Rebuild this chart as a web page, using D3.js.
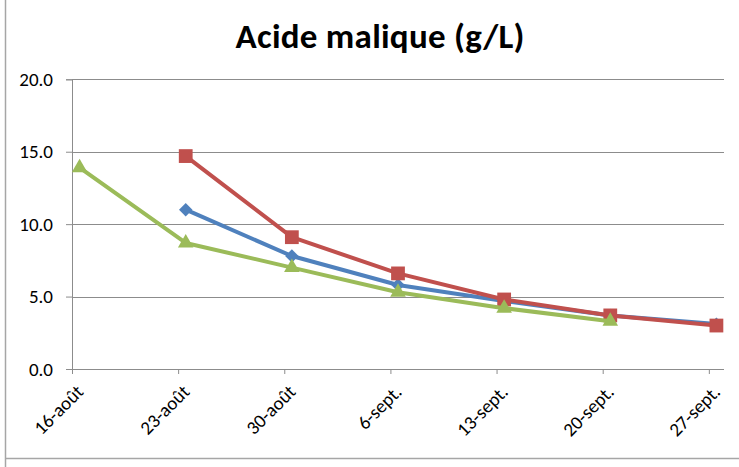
<!DOCTYPE html>
<html><head><meta charset="utf-8">
<script src="https://cdn.jsdelivr.net/npm/d3@7"></script>
<style>body{margin:0;background:#fff;} svg{display:block;}</style>
</head><body>
<svg id="chart" width="739" height="467"></svg>
<script>
const title = "Acide malique (g/L)";
const dates = ["2011-08-16","2011-08-23","2011-08-30","2011-09-06","2011-09-13","2011-09-20","2011-09-27"];
const tickLabels = ["16-août","23-août","30-août","6-sept.","13-sept.","20-sept.","27-sept."];
const yTicks = [0, 5, 10, 15, 20];
const blueValues  = [null, 11.0, 7.8, 5.8, 4.7, 3.7, 3.1];
const redValues   = [null, 14.7, 9.1, 6.6, 4.8, 3.7, 3.0];
const greenValues = [13.9, 8.7, 7.0, 5.3, 4.2, 3.3, null];
const seriesNames = ["blue","red","green"];
const seriesColors = ["#4F81BD","#C0504D","#9BBB59"];
const seriesShapes = ["diamond","square","triangle"];

const svg = d3.select("#chart");
const parse = d3.utcParse("%Y-%m-%d");
const dts = dates.map(parse);
const endDate = d3.utcDay.offset(dts[dts.length-1], 1);
const FONT = "Carlito, Calibri, 'Open Sans', sans-serif";

const mLeft = 72, mRight = 724, mTop = 79.3, mBottom = 369;
const x = d3.scaleUtc().domain([dts[0], endDate]).range([mLeft, mRight]);
const y = d3.scaleLinear().domain([0, 20]).range([mBottom, mTop]);

// frame
svg.append("line").attr("x1",5.5).attr("x2",5.5).attr("y1",0).attr("y2",467).attr("stroke","#a6a6a6").attr("stroke-width",1.5);
svg.append("line").attr("x1",5).attr("x2",739).attr("y1",458.5).attr("y2",458.5).attr("stroke","#a6a6a6").attr("stroke-width",1.5);

// gridlines
svg.append("g").selectAll("line").data(yTicks.filter(d=>d>0)).join("line")
  .attr("x1",mLeft).attr("x2",mRight).attr("y1",d=>Math.round(y(d))+0.5).attr("y2",d=>Math.round(y(d))+0.5)
  .attr("stroke","#8c8c8c").attr("stroke-width",1);

// y axis
const yAxis = d3.axisLeft(y).tickValues(yTicks).tickFormat(d3.format(".1f")).tickSize(6).tickPadding(13);
const gy = svg.append("g").attr("transform",`translate(${mLeft},0)`).call(yAxis);
gy.select(".domain").attr("stroke","#8c8c8c");
gy.selectAll(".tick line").attr("stroke","#8c8c8c");
gy.selectAll("text").attr("font-family",FONT).attr("font-size",19).attr("fill","#000");

// x axis
const xAxis = d3.axisBottom(x).tickValues(dts).tickFormat((d,i)=>tickLabels[i]).tickSize(5);
const gx = svg.append("g").attr("transform",`translate(0,${mBottom})`).call(xAxis);
gx.select(".domain").attr("stroke","#8c8c8c").attr("d",`M${mLeft},0.5H${mRight}`);
gx.selectAll(".tick line").attr("stroke","#8c8c8c");
gx.selectAll("text").attr("font-family",FONT).attr("font-size",19).attr("fill","#000")
  .attr("text-anchor","end").attr("dy",0).attr("y",0)
  .attr("transform","translate(12,24) rotate(-45)");

// title
svg.append("text").attr("x",380).attr("y",48).attr("text-anchor","middle")
  .attr("font-family",FONT).attr("font-weight","bold").attr("font-size",35)
  .attr("textLength",289)
  .attr("fill","#000").text(title);

const px = d => x(d3.utcHour.offset(d, 12));
const allValues = [blueValues, redValues, greenValues];
const shapes = {
  diamond: d3.symbol().type(d3.symbolDiamond2).size(115),
  square: d3.symbol().type(d3.symbolSquare).size(190),
  triangle: d3.symbol().type(d3.symbolTriangle).size(105)
};
allValues.forEach((vals, si) => {
  const pts = vals.map((v,i)=>({d:dts[i], v})).filter(p=>p.v!==null);
  const line = d3.line().x(p=>px(p.d)).y(p=>y(p.v));
  const g = svg.append("g");
  g.append("path").datum(pts).attr("d",line).attr("fill","none")
    .attr("stroke",seriesColors[si]).attr("stroke-width",4).attr("stroke-linejoin","round");
  g.selectAll("path.m").data(pts).join("path").attr("class","m")
    .attr("d",shapes[seriesShapes[si]])
    .attr("transform",p=>`translate(${px(p.d)},${y(p.v)})`)
    .attr("fill",seriesColors[si]);
});
</script>
</body></html>
